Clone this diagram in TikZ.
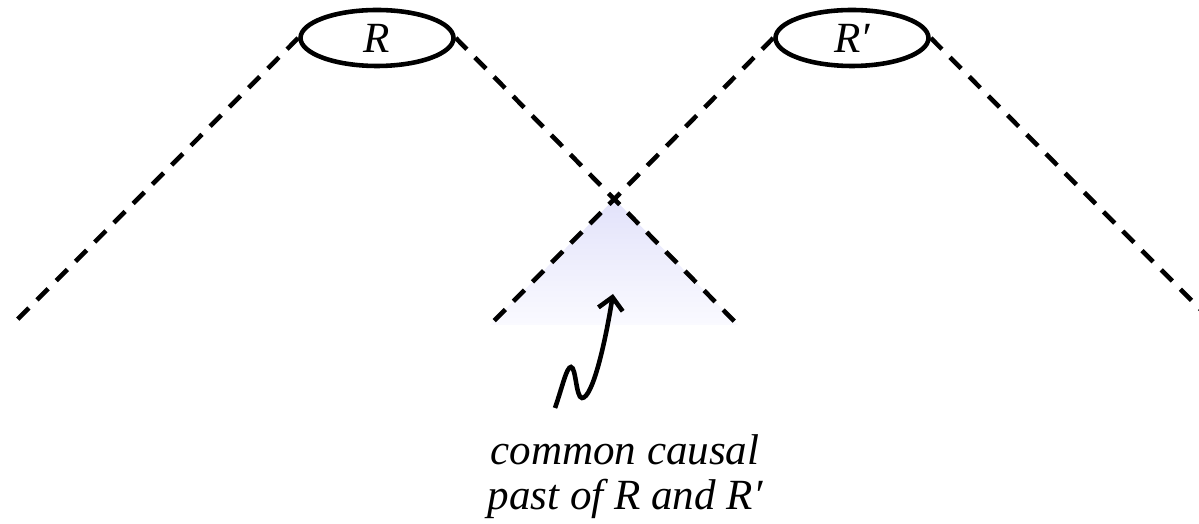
\documentclass[tikz,border=0pt]{standalone}
\usepackage{fontspec}
\setmainfont{Liberation Serif}
\usetikzlibrary{shapes.geometric,arrows.meta}
\definecolor{lavtop}{RGB}{226,226,250}
\definecolor{lavbot}{RGB}{250,250,255}
\begin{document}
\begin{tikzpicture}[line width=2.6pt,font=\fontsize{24.5}{25.6}\selectfont\itshape,
  cone/.style={dash pattern=on 9pt off 6.5pt},
  region/.style={draw,ellipse,minimum width=3.06cm,minimum height=1.12cm,inner sep=0pt}]
\useasboundingbox(0,0)rectangle(23.98,10.48);
\node[region](R)at(7.54,9.72){R};
\node[region](Rp)at(17.04,9.72){R′};
\coordinate(A)at(0.24,3.98);
\coordinate(B)at(14.76,3.98);
\coordinate(C)at(9.8,3.98);
\coordinate(D)at(24.3,4.0);
\coordinate(X)at(intersection of R.east--B and Rp.west--C);
\shade[top color=lavtop,bottom color=lavbot](X)--(B)--(C)--cycle;
\draw[cone](R.west)--(A);
\draw[cone](R.east)--(B);
\draw[cone](Rp.west)--(C);
\draw[cone](Rp.east)--(D);
\coordinate(tip)at(12.26,4.6);
\coordinate(tail)at(11.1,2.32);
\node[align=center](past)at(12.5,0.94){common causal\\past of R and R′};
\draw[-{Straight Barb[length=7pt,width=14pt]}](tail)..controls(11.25,2.75)and(11.33,3.14)..(11.42,3.14)
  ..controls(11.52,3.14)and(11.52,2.52)..(11.64,2.52)..controls(11.85,2.52)and(12.1,3.6)..(tip);
\end{tikzpicture}
\end{document}
